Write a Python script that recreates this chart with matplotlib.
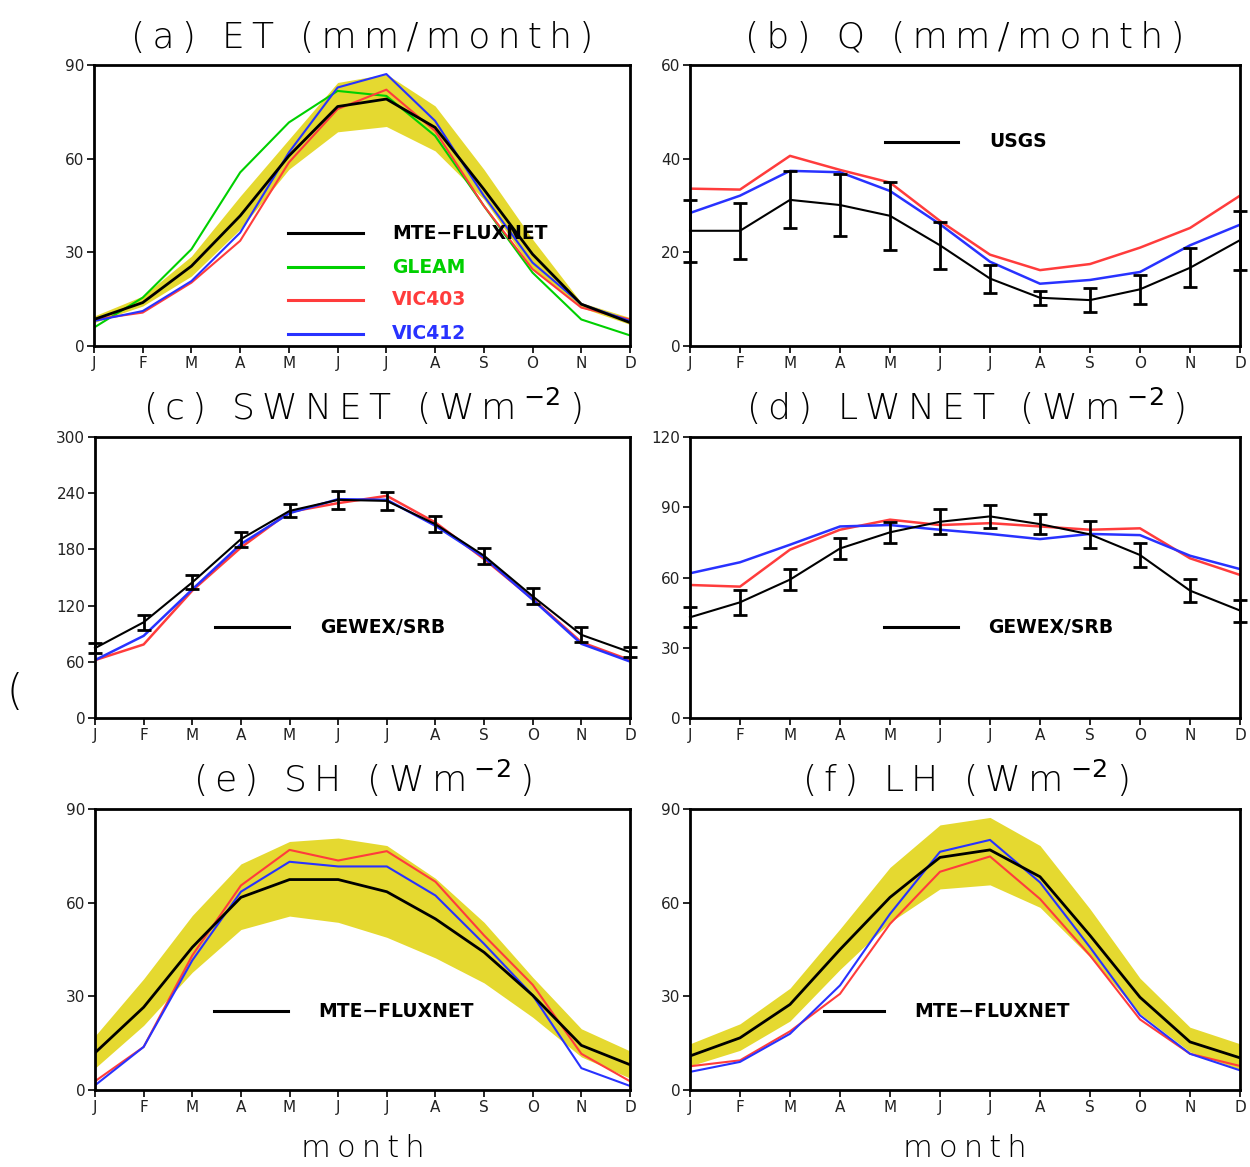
import numpy as np
import matplotlib
matplotlib.use("Agg")
import matplotlib.pyplot as plt

months = ["J", "F", "M", "A", "M", "J", "J", "A", "S", "O", "N", "D"]

# (a) ET (mm/month)
et_mte = [8.5, 13.9, 25.6, 41.7, 60.9, 76.7, 79.1, 70.0, 50.2, 29.4, 13.4, 7.5]
et_mte_hi = [9.6, 16.0, 28.8, 48.0, 66.2, 84.4, 87.1, 76.9, 56.6, 34.2, 13.9, 9.1]
et_mte_lo = [7.5, 12.8, 22.4, 37.4, 56.6, 68.6, 70.3, 62.5, 47.0, 24.6, 12.3, 6.9]
et_gleam = [5.9, 15.5, 31.0, 55.6, 71.6, 81.7, 80.1, 67.3, 44.9, 23.5, 8.5, 3.4]
et_vic403 = [8.5, 10.7, 20.3, 33.7, 58.8, 75.9, 82.1, 68.9, 44.9, 24.6, 12.3, 8.5]
et_vic412 = [8.0, 11.2, 20.8, 36.3, 62.0, 82.8, 87.1, 72.1, 48.1, 26.7, 13.4, 8.0]

# (b) Q (mm/month)
q_usgs = [24.6, 24.6, 31.2, 30.1, 27.8, 21.5, 14.4, 10.3, 9.8, 12.1, 16.7, 22.6]
q_usgs_err = [6.6, 6.0, 6.1, 6.7, 7.2, 5.0, 3.0, 1.5, 2.6, 3.1, 4.2, 6.3]
q_vic403 = [33.6, 33.4, 40.6, 37.6, 34.9, 26.7, 19.5, 16.2, 17.5, 21.0, 25.2, 32.1]
q_vic412 = [28.4, 32.1, 37.4, 37.1, 33.1, 26.0, 18.0, 13.3, 14.1, 15.8, 21.5, 25.9]

# (c) SWNET (Wm-2)
sw_gewex = [74.6, 102.2, 144.8, 191.0, 221.1, 232.9, 231.8, 206.9, 173.2, 129.9, 88.8, 70.3]
sw_gewex_err = [5, 8, 7.5, 8, 7, 9.5, 10, 8.7, 8.5, 8.5, 8, 5]
sw_vic403 = [61.8, 78.5, 136.0, 182.0, 220.0, 229.4, 237.2, 208.7, 169.7, 127.0, 80.9, 61.8]
sw_vic412 = [61.8, 87.7, 137.3, 185.7, 218.7, 233.6, 232.9, 205.2, 171.4, 126.3, 79.2, 60.3]

# (d) LWNET (Wm-2)
lw_gewex = [43.0, 49.4, 59.1, 72.4, 79.3, 83.8, 86.1, 82.8, 78.4, 69.6, 54.4, 45.9]
lw_gewex_err = [4.3, 5.3, 4.4, 4.4, 4.4, 5.3, 5.0, 4.2, 5.7, 5.0, 5.0, 4.7]
lw_vic403 = [56.8, 56.1, 71.9, 80.4, 84.7, 82.4, 83.2, 81.8, 80.4, 81.0, 68.2, 61.1]
lw_vic412 = [61.8, 66.5, 74.0, 81.8, 82.4, 80.4, 78.6, 76.4, 78.6, 78.1, 69.3, 63.6]

# (e) SH (Wm-2)
sh_mte = [11.9, 26.5, 45.7, 61.7, 67.4, 67.4, 63.5, 54.8, 44.1, 30.3, 14.3, 8.1]
sh_mte_hi = [17.3, 35.6, 55.9, 72.4, 79.6, 80.7, 78.3, 67.8, 53.7, 36.1, 19.6, 12.5]
sh_mte_lo = [7.0, 20.7, 37.7, 51.4, 55.7, 53.7, 48.9, 42.3, 34.3, 23.3, 10.6, 3.8]
sh_vic403 = [2.8, 13.8, 43.1, 65.5, 76.9, 73.5, 76.5, 66.7, 49.5, 33.7, 11.6, 2.8]
sh_vic412 = [1.5, 13.8, 41.5, 63.5, 73.1, 71.6, 71.6, 62.3, 46.8, 30.3, 7.0, 1.3]

# (f) LH (Wm-2)
lh_mte = [10.9, 16.7, 27.4, 45.0, 61.7, 74.5, 76.9, 68.3, 49.5, 29.7, 15.4, 10.3]
lh_mte_hi = [14.8, 21.2, 32.6, 51.6, 71.3, 84.9, 87.3, 78.3, 58.0, 35.8, 20.1, 14.8]
lh_mte_lo = [7.7, 12.7, 22.1, 38.6, 53.7, 64.4, 65.7, 58.5, 42.6, 24.4, 12.2, 6.6]
lh_vic403 = [7.6, 9.5, 18.8, 30.8, 53.2, 69.9, 74.8, 61.2, 43.1, 22.6, 11.6, 7.7]
lh_vic412 = [5.8, 9.0, 18.0, 33.5, 56.4, 76.3, 80.1, 66.5, 45.7, 23.9, 11.6, 6.3]

YELLOW = "#e5d930"
GREEN = "#00d000"
RED = "#ff3c3c"
BLUE = "#2832ff"

x = np.arange(12)

fig = plt.figure(figsize=(12.5, 11.67), dpi=100)

W, H = 1250.0, 1167.0
SUP = "$^{-2}$"


def spaced(s):
    # mimic the wide GrADS lettering with thin spaces between glyphs
    return "\u2009".join(s)


def unit_title(prefix):
    return spaced(prefix) + "\u2009" + SUP + "\u2009)"


def make_ax(left, top, right, bottom):
    return fig.add_axes([left / W, 1 - bottom / H, (right - left) / W, (bottom - top) / H])


def style(ax, yticks, title):
    ax.set_xlim(0, 11)
    ax.set_ylim(0, yticks[-1])
    ax.set_yticks(yticks)
    ax.set_xticks(x)
    ax.set_xticklabels(months)
    for s in ax.spines.values():
        s.set_linewidth(2)
    ax.tick_params(axis="both", direction="out", length=5, width=1.2, labelsize=11,
                   labelcolor="#222222", pad=2)
    ax.set_title(title, fontsize=26, fontweight="light", pad=12)


def legend_line(ax, x0, x1, xt, y, label, color="black"):
    ax.plot([x0, x1], [y, y], transform=ax.transAxes, color=color, lw=2.2, clip_on=False)
    ax.text(xt, y, label, transform=ax.transAxes, color=color, fontsize=13.5,
            fontweight="bold", va="center", ha="left")


# (a)
ax = make_ax(94, 65, 630, 346)
ax.fill_between(x, et_mte_lo, et_mte_hi, color=YELLOW, lw=0)
ax.plot(x, et_gleam, color=GREEN, lw=1.5)
ax.plot(x, et_vic403, color=RED, lw=1.5)
ax.plot(x, et_vic412, color=BLUE, lw=1.5)
ax.plot(x, et_mte, color="black", lw=2)
style(ax, [0, 30, 60, 90], spaced("(a) ET (mm/month)"))
legend_line(ax, 0.362, 0.502, 0.556, 0.402, "MTE\u2212FLUXNET")
legend_line(ax, 0.362, 0.502, 0.556, 0.281, "GLEAM", GREEN)
legend_line(ax, 0.362, 0.502, 0.556, 0.164, "VIC403", RED)
legend_line(ax, 0.362, 0.502, 0.556, 0.043, "VIC412", BLUE)

# (b)
ax = make_ax(690, 65, 1240, 346)
ax.plot(x, q_vic403, color=RED, lw=1.8)
ax.plot(x, q_vic412, color=BLUE, lw=1.8)
ax.errorbar(x, q_usgs, yerr=q_usgs_err, color="black", lw=1.5, capsize=5, capthick=2,
            elinewidth=2, clip_on=False)
style(ax, [0, 20, 40, 60], spaced("(b) Q (mm/month)"))
legend_line(ax, 0.355, 0.487, 0.544, 0.726, "USGS")

# (c)
ax = make_ax(95, 437, 630, 718)
ax.plot(x, sw_vic403, color=RED, lw=1.8)
ax.plot(x, sw_vic412, color=BLUE, lw=1.8)
ax.errorbar(x, sw_gewex, yerr=sw_gewex_err, color="black", lw=1.5, capsize=5, capthick=2,
            elinewidth=2, clip_on=False)
style(ax, [0, 60, 120, 180, 240, 300], unit_title("(c) SWNET (Wm"))
legend_line(ax, 0.224, 0.362, 0.42, 0.323, "GEWEX/SRB")

# (d)
ax = make_ax(690, 437, 1240, 718)
ax.plot(x, lw_vic403, color=RED, lw=1.8)
ax.plot(x, lw_vic412, color=BLUE, lw=1.8)
ax.errorbar(x, lw_gewex, yerr=lw_gewex_err, color="black", lw=1.5, capsize=5, capthick=2,
            elinewidth=2, clip_on=False)
style(ax, [0, 30, 60, 90, 120], unit_title("(d) LWNET (Wm"))
legend_line(ax, 0.352, 0.488, 0.542, 0.323, "GEWEX/SRB")

# (e)
ax = make_ax(95, 809, 630, 1090)
ax.fill_between(x, sh_mte_lo, sh_mte_hi, color=YELLOW, lw=0)
ax.plot(x, sh_vic403, color=RED, lw=1.5)
ax.plot(x, sh_vic412, color=BLUE, lw=1.5)
ax.plot(x, sh_mte, color="black", lw=2)
style(ax, [0, 30, 60, 90], unit_title("(e) SH (Wm"))
legend_line(ax, 0.223, 0.36, 0.418, 0.28, "MTE\u2212FLUXNET")
ax.set_xlabel(spaced("month"), fontsize=22, fontweight="light", labelpad=14)

# (f)
ax = make_ax(690, 809, 1240, 1090)
ax.fill_between(x, lh_mte_lo, lh_mte_hi, color=YELLOW, lw=0)
ax.plot(x, lh_vic403, color=RED, lw=1.5)
ax.plot(x, lh_vic412, color=BLUE, lw=1.5)
ax.plot(x, lh_mte, color="black", lw=2)
style(ax, [0, 30, 60, 90], unit_title("(f) LH (Wm"))
legend_line(ax, 0.243, 0.353, 0.408, 0.28, "MTE\u2212FLUXNET")
ax.set_xlabel(spaced("month"), fontsize=22, fontweight="light", labelpad=14)

fig.text(15 / W, 1 - 692 / H, "(", fontsize=30, fontweight="light", ha="center", va="center")

fig.savefig("out.png", dpi=100)
